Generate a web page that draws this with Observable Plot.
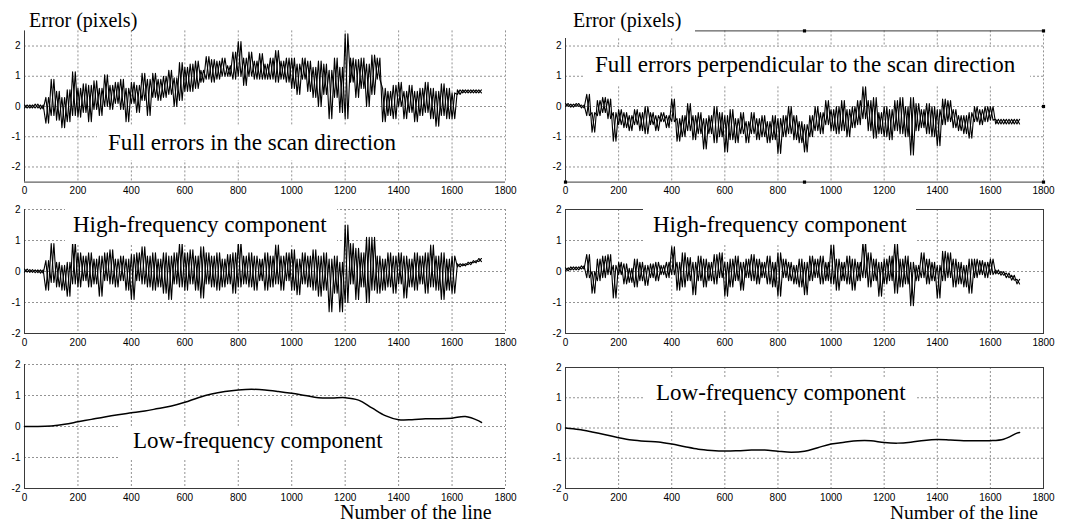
<!DOCTYPE html>
<html>
<head>
<meta charset="utf-8">
<script src="https://cdn.jsdelivr.net/npm/d3@7"></script>
<script src="https://cdn.jsdelivr.net/npm/@observablehq/plot@0.6"></script>
<style>
  html, body { margin: 0; padding: 0; background: #fff; }
  #fig { position: relative; width: 1066px; height: 522px; overflow: hidden; background: #fff; }
  .lbl { position: absolute; font-family: 'Liberation Serif', 'Times New Roman', serif; line-height: 1; background: #fff; white-space: nowrap; box-sizing: border-box; color: #000; }
</style>
</head>
<body>
<div id="fig"></div>
<script>
// ---- tick labels ----
const xTicks = [0, 200, 400, 600, 800, 1000, 1200, 1400, 1600, 1800];
const yTicks = [-2, -1, 0, 1, 2];

// ---- noisy series: line number of each 20-line bin, with its max / min error ----
const lineNo = [0,20,40,60,80,100,120,140,160,180,200,220,240,260,280,300,320,340,360,380,
  400,420,440,460,480,500,520,540,560,580,600,620,640,660,680,700,720,740,760,780,
  800,820,840,860,880,900,920,940,960,980,1000,1020,1040,1060,1080,1100,1120,1140,1160,1180,
  1200,1220,1240,1260,1280,1300,1320,1340,1360,1380,1400,1420,1440,1460,1480,1500,1520,1540,1560,1580,
  1600,1620,1640,1660,1680,1700];

// Full errors in the scan direction
const scanHi = [0.05,0.05,0.08,0.05,0.3,0.9,0.5,0.3,0.55,1.15,
  0.6,0.75,0.7,0.85,0.6,1.05,0.7,0.8,0.9,0.6,
  0.8,0.7,1.1,0.9,1.1,0.9,1.0,1.2,0.95,1.45,
  1.3,1.4,1.5,1.2,1.65,1.55,1.5,1.6,1.35,1.8,
  2.15,1.6,1.8,1.5,1.75,1.4,1.6,1.85,1.5,1.6,
  1.6,1.4,1.6,1.5,1.3,1.5,1.4,1.2,1.6,1.3,
  2.4,1.6,1.55,1.6,1.4,1.7,1.6,0.6,0.5,0.7,
  0.8,0.5,0.7,0.5,0.6,0.8,0.6,0.5,0.75,0.6,
  0.45,0.55,0.55,0.55,0.55,0.55];
const scanLo = [-0.05,-0.05,-0.05,-0.08,-0.55,-0.3,-0.45,-0.7,-0.5,-0.3,
  -0.35,-0.2,-0.5,-0.1,-0.3,0.0,-0.1,0.1,-0.1,-0.5,
  0.1,-0.2,0.2,-0.3,0.3,0.2,0.3,0.4,0.0,0.2,
  0.5,0.5,0.6,0.8,0.9,0.8,0.9,1.0,1.0,0.9,
  1.0,0.7,1.0,0.9,0.9,0.9,0.9,0.8,0.9,0.8,
  0.6,0.4,0.9,0.5,0.3,0.0,0.4,-0.4,0.3,-0.2,
  -0.4,0.8,0.3,0.6,0.0,0.4,0.9,-0.5,-0.3,-0.4,
  0.0,-0.4,-0.2,-0.5,-0.3,-0.2,-0.4,-0.65,-0.3,-0.4,
  -0.4,0.4,0.45,0.45,0.45,0.45];

// Full errors perpendicular to the scan direction
const perpHi = [0.1,0.08,0.1,0.05,0.4,-0.2,0.2,0.3,0.25,-0.2,
  -0.1,-0.2,-0.3,-0.1,-0.2,0.0,-0.2,-0.3,-0.2,-0.3,
  0.25,-0.4,-0.3,0.1,-0.3,-0.2,-0.4,-0.3,0.0,-0.2,
  -0.3,-0.1,-0.4,-0.2,-0.5,-0.2,-0.4,-0.3,-0.5,-0.3,
  -0.4,-0.3,0.0,-0.3,-0.5,-0.6,-0.3,0.0,-0.2,0.2,
  -0.1,0.0,0.2,-0.1,0.0,0.2,0.65,0.2,0.3,-0.2,
  0.0,-0.1,0.2,0.3,0.0,0.3,0.1,-0.1,0.1,0.0,
  -0.1,0.25,0.2,-0.1,-0.3,-0.3,-0.2,0.0,-0.1,0.0,
  0.0,-0.42,-0.42,-0.42,-0.42,-0.42];
const perpLo = [0.0,-0.02,0.0,-0.05,-0.3,-0.85,-0.3,-0.2,-0.4,-1.15,
  -0.6,-0.7,-0.8,-0.6,-0.8,-0.9,-0.6,-0.8,-0.5,-0.7,
  -0.5,-1.15,-1.0,-0.8,-1.1,-0.9,-1.4,-0.9,-1.2,-1.0,
  -1.5,-1.1,-1.2,-0.9,-1.2,-0.9,-1.1,-1.0,-1.2,-1.1,
  -1.55,-1.0,-0.9,-1.1,-1.2,-1.5,-1.0,-0.8,-0.9,-0.6,
  -0.8,-0.9,-0.8,-1.0,-0.7,-0.6,-0.4,-0.8,-1.05,-0.9,
  -1.0,-1.1,-0.8,-0.9,-1.0,-1.6,-0.8,-0.7,-0.9,-1.0,
  -1.3,-0.6,-0.5,-0.7,-0.8,-0.9,-1.05,-0.5,-0.6,-0.5,
  -0.45,-0.58,-0.58,-0.58,-0.58,-0.58];

// High-frequency component, scan direction
const scanHfHi = [0.08,0.06,0.05,0.05,0.35,0.9,0.3,0.2,0.3,0.95,
  0.6,0.5,0.6,0.4,0.5,0.6,0.7,0.4,0.5,0.4,
  0.55,0.6,0.8,0.5,0.6,0.4,0.6,0.5,0.6,0.9,
  0.6,0.7,0.5,0.8,0.6,0.5,0.6,0.4,0.55,0.6,
  0.95,0.5,0.6,0.5,0.4,0.6,0.5,0.85,0.5,0.6,
  0.7,0.4,0.6,0.5,0.7,0.5,0.6,0.4,0.5,0.3,
  1.5,0.9,0.75,0.6,1.1,1.1,0.5,0.4,0.6,0.5,
  0.6,0.5,0.4,0.6,0.5,0.6,0.85,0.5,0.6,0.4,
  0.5,0.25,0.25,0.3,0.35,0.42];
const scanHfLo = [-0.02,-0.03,-0.04,-0.05,-0.6,-0.35,-0.5,-0.6,-0.8,-0.4,
  -0.5,-0.3,-0.5,-0.4,-0.8,-0.3,-0.4,-0.5,-0.3,-0.6,
  -0.9,-0.3,-0.4,-0.5,-0.6,-0.5,-0.7,-0.9,-0.4,-0.5,
  -0.6,-0.4,-0.6,-0.85,-0.4,-0.5,-0.6,-0.5,-0.4,-0.7,
  -0.5,-0.4,-0.5,-0.6,-0.3,-0.6,-0.5,-0.4,-0.6,-0.3,
  -0.6,-0.75,-0.4,-0.5,-0.6,-0.8,-0.6,-1.3,-0.7,-1.3,
  -1.0,-0.4,-0.9,-0.5,-1.0,-0.6,-0.7,-0.6,-0.5,-0.7,
  -0.4,-0.85,-0.5,-0.6,-0.4,-0.7,-0.5,-0.6,-0.9,-0.6,
  -0.7,0.15,0.18,0.22,0.28,0.32];

// High-frequency component, perpendicular
const perpHfHi = [0.12,0.15,0.15,0.18,0.55,0.0,0.4,0.5,0.55,0.2,
  0.3,0.25,0.1,0.4,0.3,0.2,0.25,0.3,0.2,0.3,
  0.8,0.3,0.6,0.45,0.3,0.5,0.4,0.3,0.55,0.6,
  0.3,0.4,0.5,0.3,0.4,0.55,0.4,0.3,0.5,0.3,
  0.6,0.4,0.3,0.2,0.4,0.3,0.5,0.4,0.5,0.3,
  0.85,0.4,0.3,0.5,0.4,0.3,0.95,0.6,0.4,0.3,
  0.4,0.5,0.9,0.4,0.5,0.3,0.2,0.6,0.4,0.3,
  0.2,0.65,0.6,0.4,0.3,0.2,0.4,0.4,0.35,0.3,
  0.4,0.05,0.0,-0.05,-0.12,-0.25];
const perpHfLo = [0.02,0.05,0.05,0.08,-0.2,-0.7,-0.3,-0.2,-0.1,-0.85,
  -0.1,-0.4,-0.35,-0.5,-0.3,-0.45,-0.2,-0.3,-0.1,-0.2,
  -0.1,-0.6,-0.5,-0.3,-0.75,-0.3,-0.5,-0.3,-0.4,-0.2,
  -0.8,-0.5,-0.3,-0.6,-0.2,-0.3,-0.4,-0.2,-0.4,-0.5,
  -0.8,-0.2,-0.3,-0.4,-0.5,-0.75,-0.3,-0.2,-0.4,-0.3,
  -0.4,-0.6,-0.3,-0.4,-0.6,-0.3,-0.2,-0.5,-0.3,-0.8,
  -0.4,-0.3,-0.7,-0.5,-0.4,-1.1,-0.3,-0.2,-0.4,-0.3,
  -0.85,-0.3,-0.2,-0.5,-0.4,-0.5,-0.7,-0.2,-0.1,-0.2,
  -0.1,-0.08,-0.12,-0.2,-0.28,-0.4];

// ---- low-frequency components ----
const lfX = [0,50,100,150,200,250,300,350,400,450,500,550,600,650,700,750,800,850,900,950,
  1000,1050,1100,1150,1200,1250,1300,1350,1400,1450,1500,1550,1600,1650,1700,1710];
const scanLow = [0,0,0.02,0.07,0.15,0.23,0.31,0.38,0.44,0.5,0.58,0.66,0.78,0.93,1.05,1.13,1.18,1.2,1.18,1.13,
  1.07,1.0,0.93,0.92,0.93,0.85,0.6,0.35,0.22,0.22,0.25,0.25,0.27,0.32,0.18,0.13];
const perpLow = [0,-0.05,-0.13,-0.22,-0.32,-0.4,-0.44,-0.46,-0.53,-0.62,-0.7,-0.74,-0.76,-0.75,-0.73,-0.73,-0.77,-0.8,-0.77,-0.65,
  -0.53,-0.47,-0.42,-0.42,-0.48,-0.5,-0.47,-0.41,-0.38,-0.4,-0.42,-0.42,-0.42,-0.37,-0.17,-0.15];

// scan-artifact handles on the upper right panel
const handleX = [0, 900, 1800, 1800, 0, 900, 1800];
const handleY = [2.5, 2.5, 2.5, 0, -2.5, -2.5, -2.5];

// ---- helpers ----
// two crossing zig-zags through each bin's max and min: a dense noisy trace
function zigzag(xs, hi, lo, flip) {
  const out = [];
  xs.forEach((x, i) => {
    const a = flip ? lo[i] : hi[i], b = flip ? hi[i] : lo[i];
    out.push({x, y: a}); out.push({x: x + 10, y: b});
  });
  return out;
}
function noisy(xs, hi, lo) {
  return [
    Plot.line(zigzag(xs, hi, lo, false), {x: "x", y: "y", stroke: "#000", strokeWidth: 1.1}),
    Plot.line(zigzag(xs, hi, lo, true), {x: "x", y: "y", stroke: "#000", strokeWidth: 1.1})
  ];
}
const smooth = (xs, ys) => xs.map((x, i) => ({x, y: ys[i]}));
const fmt = d => d < 0 ? "-" + Math.abs(d) : String(d);
const GRID = {stroke: "#777", strokeDasharray: "2,2", strokeWidth: 0.8};
const AX = {stroke: "#3a3a3a", strokeWidth: 1};

function panel(c) {
  const axisMarks = c.frame
    ? [Plot.frame(AX)]
    : [Plot.ruleX([0], AX), Plot.ruleY([c.yd[0]], AX)];
  const p = Plot.plot({
    width: c.w, height: c.h,
    marginTop: c.mt, marginBottom: c.mb, marginLeft: c.ml, marginRight: c.mr,
    style: {fontFamily: "'Liberation Sans', Arial, sans-serif", fontSize: "10px", background: "transparent", overflow: "visible", color: "#000"},
    x: {domain: [0, 1800], ticks: xTicks, tickSize: 0, tickPadding: 5, label: null, tickFormat: fmt},
    y: {domain: c.yd, ticks: yTicks, tickSize: 0, tickPadding: 4, label: null, tickFormat: fmt},
    marks: [
      Plot.ruleX(c.gx, GRID),
      Plot.ruleY(c.gy, GRID),
      ...axisMarks,
      ...(c.extra || []),
      ...c.marks
    ]
  });
  p.style.position = "absolute";
  p.style.left = c.left + "px";
  p.style.top = c.top + "px";
  document.getElementById("fig").appendChild(p);
}

const gx = [200, 400, 600, 800, 1000, 1200, 1400, 1600, 1800];
const gxIn = [200, 400, 600, 800, 1000, 1200, 1400, 1600];

// top-left
panel({left: 0, top: 0, w: 533, h: 200, mt: 30.4, mb: 18.4, ml: 24, mr: 28, yd: [-2.5, 2.5],
  gx, gy: [-2, -1, 0, 1, 2],
  marks: noisy(lineNo, scanHi, scanLo)});
// top-right
panel({left: 533, top: 0, w: 533, h: 200, mt: 30.4, mb: 18.4, ml: 32, mr: 23, yd: [-2.5, 2.5],
  gx, gy: [-2, -1, 0, 1, 2],
  extra: [Plot.ruleY([2.5], AX)],
  marks: [...noisy(lineNo, perpHi, perpLo),
          Plot.dot(handleX.map((x, i) => ({x, y: handleY[i]})), {x: "x", y: "y", symbol: "square", r: 1.8, fill: "#000"})]});
// middle-left
panel({left: 0, top: 190, w: 533, h: 165, mt: 19, mb: 22, ml: 24, mr: 28, yd: [-2, 2],
  gx, gy: [-1, 0, 1, 2],
  marks: noisy(lineNo, scanHfHi, scanHfLo)});
// middle-right
panel({left: 533, top: 190, w: 533, h: 165, mt: 19, mb: 22, ml: 32, mr: 23, yd: [-2, 2], frame: true,
  gx: gxIn, gy: [-1, 0, 1],
  marks: noisy(lineNo, perpHfHi, perpHfLo)});
// bottom-left
panel({left: 0, top: 350, w: 533, h: 150, mt: 14, mb: 12, ml: 24, mr: 28, yd: [-2, 2],
  gx, gy: [-1, 0, 1, 2],
  marks: [Plot.line(smooth(lfX, scanLow), {x: "x", y: "y", stroke: "#000", strokeWidth: 1.5, curve: "catmull-rom"})]});
// bottom-right
panel({left: 533, top: 350, w: 533, h: 155, mt: 17, mb: 17, ml: 32, mr: 23, yd: [-2, 2], frame: true,
  gx: gxIn, gy: [-1, 0, 1],
  marks: [Plot.line(smooth(lfX, perpLow), {x: "x", y: "y", stroke: "#000", strokeWidth: 1.5, curve: "catmull-rom"})]});

// ---- text labels (white boxes hide the grid behind them, as in the original) ----
const labels = [
  {t: "Error (pixels)", x: 26, y: 0, w: 120, h: 30, pl: 3, pt: 10, s: 20, bg: "transparent"},
  {t: "Error (pixels)", x: 560, y: 0, w: 135, h: 38, pl: 13, pt: 10, s: 20},
  {t: "Full errors in the scan direction", x: 97, y: 125, w: 315, h: 35, pl: 11, pt: 6, s: 23},
  {t: "Full errors perpendicular to the scan direction", x: 583, y: 47, w: 447, h: 39, pl: 12, pt: 6, s: 23},
  {t: "High-frequency component", x: 65, y: 200, w: 272, h: 44, pl: 8, pt: 13, s: 23},
  {t: "High-frequency component", x: 643, y: 200, w: 273, h: 44, pl: 10, pt: 13, s: 23},
  {t: "Low-frequency component", x: 120, y: 426, w: 277, h: 34, pl: 13, pt: 3, s: 23},
  {t: "Low-frequency component", x: 643, y: 378, w: 273, h: 33, pl: 13, pt: 3, s: 23},
  {t: "Number of the line", x: 340, y: 502, w: 170, h: 20, pl: 0, pt: 0, s: 20, bg: "transparent"},
  {t: "Number of the line", x: 890, y: 503, w: 170, h: 19, pl: 0, pt: 0, s: 19.5, bg: "transparent"}
];
const fig = document.getElementById("fig");
labels.forEach(L => {
  const d = document.createElement("div");
  d.className = "lbl";
  d.textContent = L.t;
  Object.assign(d.style, {left: L.x + "px", top: L.y + "px", width: L.w + "px", height: L.h + "px",
    paddingLeft: L.pl + "px", paddingTop: L.pt + "px", fontSize: L.s + "px"});
  if (L.bg) d.style.background = L.bg;
  fig.appendChild(d);
});
</script>
</body>
</html>
